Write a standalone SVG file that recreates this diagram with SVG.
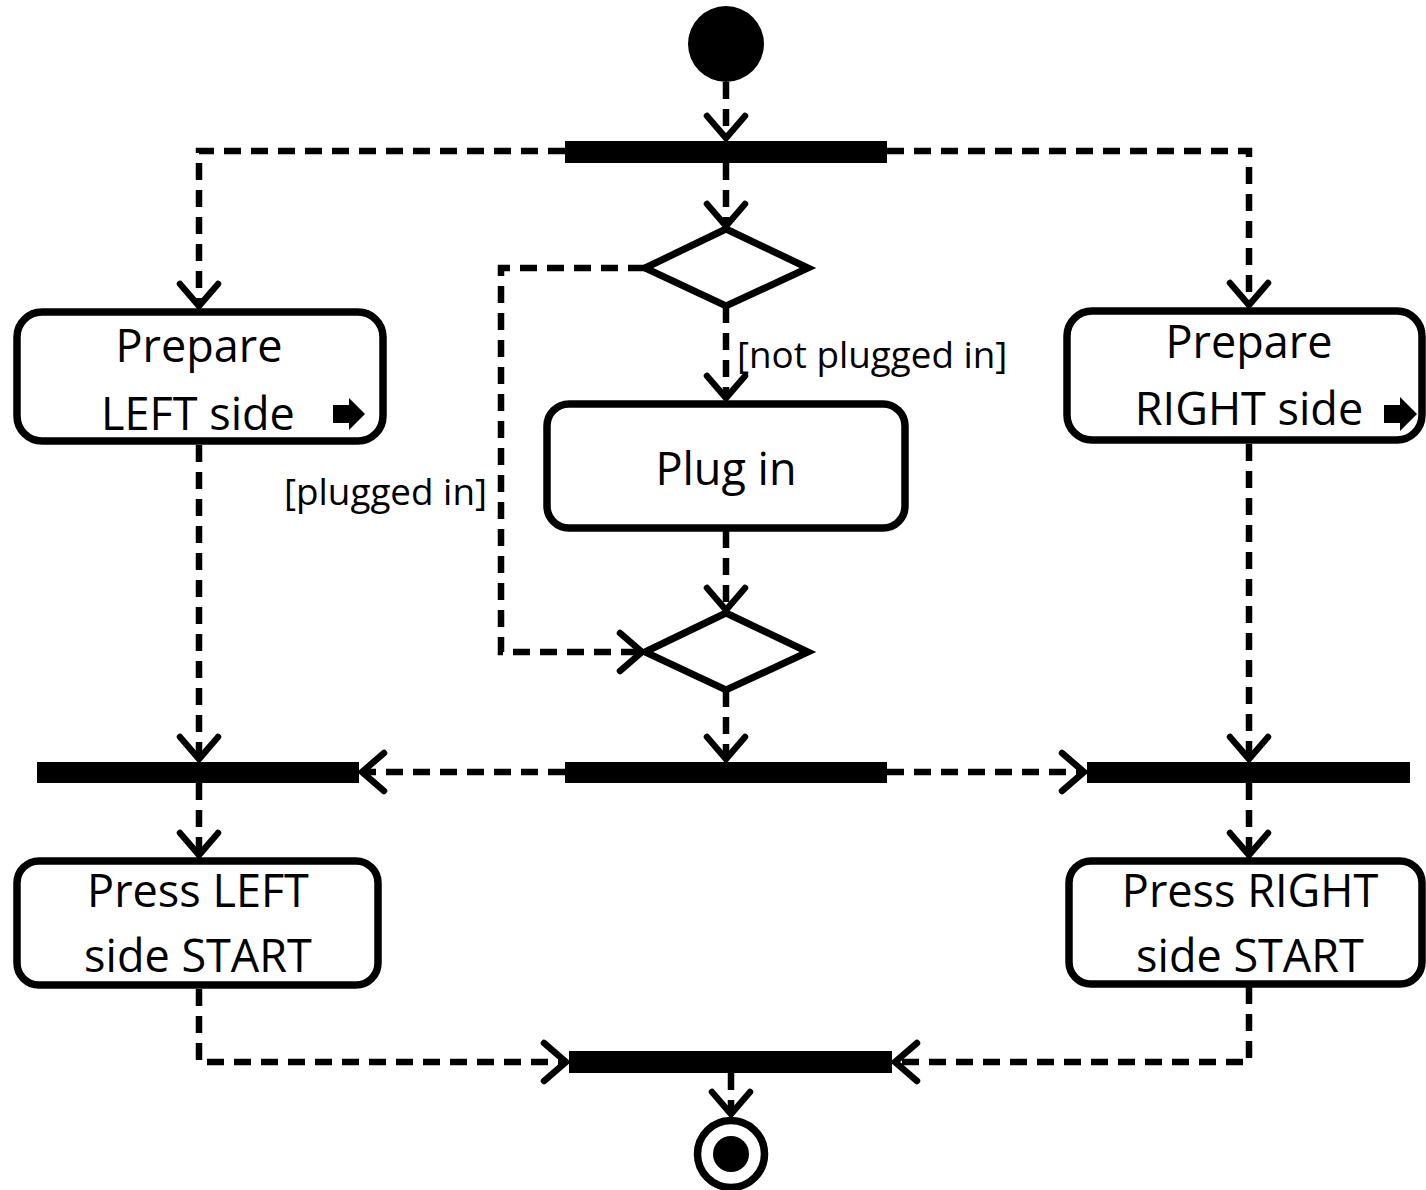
<svg xmlns="http://www.w3.org/2000/svg" width="1426" height="1190" viewBox="0 0 1426 1190">
<style>
.box{fill:#fff;stroke:#000;stroke-width:7.5}
.dia{fill:#fff;stroke:#000;stroke-width:7;stroke-linejoin:miter}
.bar{fill:#000}
.t{font-family:"Open Sans","Noto Sans",sans-serif;font-size:45px;fill:#000;text-anchor:middle}
.lbl{font-family:"Open Sans","Noto Sans",sans-serif;font-size:36.8px;fill:#000}
.c{fill:none;stroke:#000;stroke-width:6.5;stroke-dasharray:17 10;marker-end:url(#arr)}
</style>
<defs>
<marker id="arr" markerUnits="userSpaceOnUse" viewBox="-30 -25 36 50" markerWidth="36" markerHeight="50" refX="0" refY="0" orient="auto" overflow="visible">
<path d="M-22,-19 L0,0 L-22,19" fill="none" stroke="#000" stroke-width="6.5" stroke-linecap="round" stroke-linejoin="miter" stroke-dasharray="none"/>
</marker>
</defs>
<g id="connectors">
<path class="c" d="M726,82 L726,138"/>
<path class="c" d="M565,151 L199,151 L199,306"/>
<path class="c" d="M887,151 L1249,151 L1249,305"/>
<path class="c" d="M726,163 L726,226"/>
<path class="c" d="M645,268 L501,268 L501,652 L642,652"/>
<path class="c" d="M726,306 L726,398"/>
<path class="c" d="M726,531 L726,610"/>
<path class="c" d="M726,690 L726,759"/>
<path class="c" d="M565,772 L362,772"/>
<path class="c" d="M887,772 L1084,772"/>
<path class="c" d="M199,445 L199,759"/>
<path class="c" d="M1249,444 L1249,759"/>
<path class="c" d="M199,783 L199,855"/>
<path class="c" d="M1249,783 L1249,855"/>
<path class="c" d="M199,989 L199,1062 L566,1062"/>
<path class="c" d="M1249,987 L1249,1062 L895,1062"/>
<path class="c" d="M731,1073 L731,1114"/>
</g>
<g id="start"><circle cx="726" cy="44" r="38" fill="#000"/></g>
<g id="fork1"><rect class="bar" x="565" y="141" width="322" height="22"/></g>
<g id="decision1"><polygon class="dia" points="645,268 726,229 808,268 726,306"/></g>
<g id="label-plugged"><text class="lbl" x="284" y="505">[plugged in]</text></g>
<g id="label-notplugged"><text class="lbl" x="737" y="368">[not plugged in]</text></g>
<g id="prepareLeft">
<rect class="box" x="17" y="312" width="366" height="129" rx="25"/>
<text class="t" x="199" y="362">Prepare</text>
<text class="t" x="198" y="430">LEFT side</text>
<polygon points="333,405 349,405 349,398 365,414 349,430 349,423 333,423" fill="#000"/>
</g>
<g id="prepareRight">
<rect class="box" x="1067" y="311" width="355" height="129" rx="25"/>
<text class="t" x="1249" y="358">Prepare</text>
<text class="t" x="1249" y="425">RIGHT side</text>
<polygon points="1384,405 1400,405 1400,397 1417,414 1400,431 1400,423 1384,423" fill="#000"/>
</g>
<g id="plugIn">
<rect class="box" x="547" y="404" width="358" height="124" rx="22"/>
<text class="t" x="726" y="485">Plug in</text>
</g>
<g id="merge1"><polygon class="dia" points="645,652 726,613 808,652 726,690"/></g>
<g id="fork2"><rect class="bar" x="565" y="762" width="322" height="21"/></g>
<g id="joinLeft"><rect class="bar" x="37" y="762" width="322" height="21"/></g>
<g id="joinRight"><rect class="bar" x="1087" y="762" width="323" height="21"/></g>
<g id="pressLeft">
<rect class="box" x="17" y="861" width="361" height="124" rx="22"/>
<text class="t" x="198" y="907">Press LEFT</text>
<text class="t" x="198" y="972">side START</text>
</g>
<g id="pressRight">
<rect class="box" x="1069" y="861" width="353" height="123" rx="22"/>
<text class="t" x="1250" y="907">Press RIGHT</text>
<text class="t" x="1250" y="972">side START</text>
</g>
<g id="join"><rect class="bar" x="569" y="1051" width="323" height="22"/></g>
<g id="end">
<circle cx="731" cy="1154" r="33.5" fill="#fff" stroke="#000" stroke-width="7.5"/>
<circle cx="731" cy="1154" r="18" fill="#000"/>
</g>
</svg>
